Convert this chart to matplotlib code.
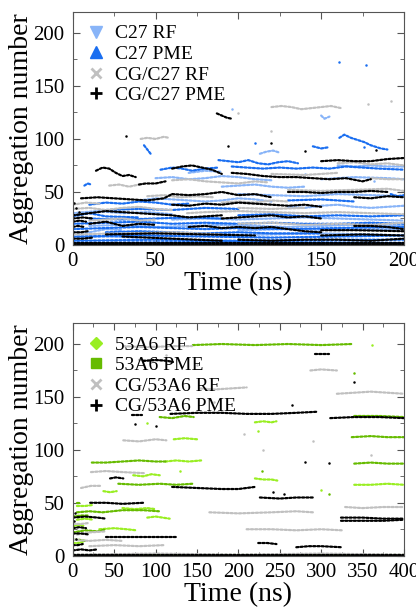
import matplotlib
matplotlib.use('Agg')
from matplotlib import pyplot as plt
from matplotlib.lines import Line2D
from matplotlib.ticker import MultipleLocator

plt.rcParams['font.family'] = ['Liberation Serif', 'DejaVu Serif']

# ---- top panel: C27 runs, each trace is a list of (time ns, aggregation number)
c27_rf = [
    [(150, 122), (152, 119), (155, 121)],
    [(113, 86), (117, 88), (121, 89), (125, 87)],
    [(160, 75), (170, 74), (180, 75), (190, 74), (200, 74)],
    [(50, 63), (60, 64), (70, 62), (80, 63), (90, 65), (100, 64), (110, 62), (120, 61)],
    [(90, 55), (100, 56), (110, 57), (120, 55), (130, 54), (140, 55)],
    [(40, 42), (50, 44), (60, 43), (70, 42), (80, 41), (90, 42), (100, 44), (110, 43), (120, 41)],
    [(130, 36), (140, 35), (150, 37), (160, 38), (170, 36), (180, 35), (190, 36), (200, 37)],
    [(60, 24), (80, 25), (100, 24), (120, 25), (140, 26), (160, 25), (180, 24), (200, 23)],
    [(10, 18), (30, 19), (50, 17), (70, 18), (90, 19), (110, 18), (130, 17), (150, 18), (170, 19), (200, 18)],
    [(30, 10), (60, 11), (90, 9), (120, 10), (150, 11), (180, 10), (200, 9)],
    [(0, 12), (10, 12), (20, 15), (30, 14)],
    [(0, 30), (15, 32), (30, 30), (45, 31), (60, 29)],
    [(100, 48), (120, 47), (140, 46), (160, 48), (180, 47), (200, 46)],
    [(70, 68), (80, 70), (90, 69)],
    [(150, 62), (170, 64), (190, 63), (200, 62)],
    [(0, 7), (20, 8), (40, 7)],
    [(100, 14), (130, 15), (160, 14), (200, 15)],
]
c27_rf_dots = [(96, 128), (140, 67), (182, 60)]

c27_pme = [
    [(161, 101), (164, 104), (168, 101), (172, 99), (176, 97), (180, 94), (186, 91), (190, 90)],
    [(145, 93), (150, 91), (154, 92)],
    [(88, 80), (94, 79), (100, 78), (106, 80), (112, 77), (118, 76), (124, 78), (130, 79), (136, 77)],
    [(53, 71), (60, 73), (66, 72), (72, 70), (80, 72), (88, 73)],
    [(96, 74), (105, 73), (115, 72), (125, 73), (135, 72), (145, 73), (155, 72), (165, 74), (175, 73), (185, 72), (200, 71)],
    [(7, 56), (9, 58), (11, 57)],
    [(43, 94), (45, 90), (47, 86)],
    [(192, 48), (196, 46), (200, 47)],
    [(10, 38), (20, 40), (30, 39), (40, 41), (50, 40), (60, 38), (70, 39)],
    [(100, 28), (120, 29), (140, 27), (160, 28), (180, 27), (200, 28)],
    [(0, 20), (20, 21), (40, 22), (60, 20), (80, 21), (100, 20), (120, 21), (140, 20), (160, 20), (180, 21), (200, 20)],
    [(20, 12), (40, 13), (60, 12), (80, 11), (100, 12), (120, 11), (150, 11)],
    [(0, 4), (50, 5), (100, 4), (150, 5), (200, 5)],
    [(0, 27), (10, 30), (20, 27), (40, 26)],
    [(0, 15), (20, 16), (40, 17), (60, 16), (80, 15), (100, 16), (130, 15), (160, 16), (200, 17)],
    [(20, 33), (40, 34), (60, 33), (80, 35), (100, 34)],
    [(130, 42), (150, 43), (170, 41)],
    [(0, 8), (40, 9), (80, 8), (120, 7), (160, 8), (200, 9)],
    [(10, 25), (30, 24), (50, 25), (70, 26), (90, 25)],
    [(0, 2), (100, 3), (200, 2)],
]
c27_pme_dots = [(161, 172), (177, 170), (110, 96), (176, 92)]

cg_c27_rf = [
    [(41, 100), (45, 101), (50, 100), (55, 102), (58, 101)],
    [(120, 130), (126, 131), (132, 130), (138, 128), (144, 129), (150, 130), (156, 131), (162, 129)],
    [(22, 56), (28, 57), (34, 55), (40, 57)],
    [(60, 61), (70, 62), (80, 60), (90, 59), (100, 58), (110, 60), (118, 59)],
    [(0, 34), (10, 35), (20, 33), (30, 35), (40, 36), (50, 34), (60, 33)],
    [(69, 30), (80, 31), (100, 32), (120, 31), (140, 30), (160, 31), (180, 30), (200, 29)],
    [(45, 46), (55, 47), (65, 45), (75, 46), (85, 45)],
    [(160, 77), (170, 78), (180, 76), (190, 77), (200, 75)],
    [(180, 63), (190, 62), (200, 62)],
    [(100, 20), (120, 21), (140, 19), (160, 20), (180, 19), (200, 21)],
    [(130, 52), (150, 51), (170, 52), (190, 53), (200, 51)],
    [(10, 23), (20, 24), (30, 25), (40, 23), (50, 24)],
    [(90, 40), (100, 41), (110, 40), (120, 42), (130, 41)],
    [(0, 38), (8, 40), (16, 39)],
    [(120, 67), (140, 66), (160, 68)],
    [(0, 10), (30, 11), (60, 12), (90, 10)],
    [(100, 35), (120, 34), (140, 35)],
]
cg_c27_rf_dots = [(178, 133), (192, 136), (120, 107), (100, 124)]

cg_c27_pme = [
    [(87, 124), (90, 122), (93, 120), (96, 119)],
    [(14, 70), (18, 73), (22, 72), (26, 68), (30, 65), (34, 66), (38, 64)],
    [(40, 57), (44, 58), (50, 58), (56, 60)],
    [(60, 72), (66, 74), (72, 75), (78, 73), (84, 71), (90, 67)],
    [(96, 68), (105, 67), (115, 65), (125, 64), (135, 64), (145, 63), (155, 62), (165, 63), (175, 60), (180, 62)],
    [(150, 79), (160, 80), (170, 79), (180, 79), (190, 81), (200, 82)],
    [(5, 44), (15, 45), (25, 44), (35, 43), (45, 42), (55, 44), (60, 48)],
    [(60, 48), (70, 47), (80, 48), (90, 50), (100, 47), (110, 48), (120, 45)],
    [(130, 50), (140, 50), (150, 49), (160, 50), (170, 50), (180, 51), (190, 50)],
    [(170, 45), (180, 44), (190, 46), (200, 45)],
    [(60, 38), (70, 37), (80, 39), (90, 38), (100, 40), (110, 39), (120, 38), (130, 37), (140, 38), (150, 36)],
    [(0, 28), (10, 30), (20, 32), (30, 31), (40, 30), (50, 29), (60, 28), (70, 26), (80, 27), (90, 28)],
    [(90, 25), (100, 26), (110, 27), (120, 28), (130, 26), (140, 27), (150, 25)],
    [(10, 20), (20, 22), (30, 18), (40, 20), (50, 19)],
    [(70, 17), (80, 18), (90, 16), (100, 17), (110, 16), (120, 17), (130, 15), (140, 13), (150, 12)],
    [(170, 18), (180, 18), (190, 17), (200, 15)],
    [(150, 14), (170, 14), (200, 13)],
    [(100, 5), (120, 4), (140, 5), (160, 5), (180, 4), (200, 6)],
    [(30, 8), (60, 6), (90, 4)],
    [(20, 10), (50, 11), (80, 10), (110, 9)],
    [(150, 9), (175, 10), (200, 9)],
    [(0, 1), (50, 1), (100, 1), (150, 1), (200, 1)],
    [(0, 0), (100, 0), (200, 0)],
    [(0, 2), (100, 2), (200, 2)],
    [(0, 22), (4, 23), (8, 22)],
    [(0, 12), (5, 12), (9, 13)],
    [(0, 17), (3, 18), (7, 17)],
    [(0, 25), (6, 26), (12, 25)],
    [(0, 6), (6, 6), (12, 7)],
]
cg_c27_pme_dots = [(32, 103), (94, 93), (120, 96), (140, 89), (183, 90), (2, 35), (4, 31), (1, 40)]

# ---- bottom panel: 53A6 runs
a53_rf = [
    [(112, 89), (125, 90), (140, 89), (155, 90)],
    [(122, 110), (135, 111), (150, 110)],
    [(73, 76), (85, 75), (95, 77), (105, 76)],
    [(220, 126), (230, 127), (240, 126), (246, 127)],
    [(220, 73), (230, 72), (240, 72), (247, 71)],
    [(340, 67), (360, 67), (380, 68), (400, 67)],
    [(60, 45), (75, 44), (90, 45), (100, 44)],
    [(32, 25), (50, 26), (65, 25), (77, 24)],
    [(37, 61), (45, 60), (53, 61)],
    [(90, 36), (100, 37), (117, 35)],
    [(0, 28), (8, 29), (15, 28)],
    [(5, 34), (15, 35), (25, 34)],
    [(5, 47), (15, 47), (25, 48)],
    [(0, 12), (6, 12), (12, 13)],
]
a53_rf_dots = [(362, 199), (224, 118), (90, 125), (300, 62), (130, 80)]

a53_pme = [
    [(145, 199), (180, 200), (220, 199), (260, 200), (300, 199), (337, 200)],
    [(105, 131), (120, 130), (135, 132), (146, 131)],
    [(23, 88), (40, 88), (60, 89), (80, 90), (100, 89), (112, 89)],
    [(55, 68), (80, 67), (105, 68), (125, 67), (145, 68)],
    [(337, 112), (360, 113), (380, 112), (400, 112)],
    [(340, 87), (360, 88), (380, 87), (400, 87)],
    [(340, 132), (370, 132), (400, 131)],
    [(5, 41), (20, 42), (36, 41), (60, 43), (85, 43), (104, 42)],
    [(5, 50), (10, 50)],
    [(0, 22), (15, 24), (30, 23), (40, 25)],
    [(0, 37), (10, 38), (20, 38)],
    [(2, 15), (8, 15), (15, 14)],
    [(0, 1), (100, 1), (200, 1), (300, 1), (400, 1)],
]
a53_pme_dots = [(340, 173), (228, 80), (310, 58)]

cg_a53_rf = [
    [(61, 198), (90, 197), (120, 198), (144, 198)],
    [(80, 185), (95, 184), (110, 185)],
    [(287, 175), (300, 176), (319, 175)],
    [(154, 158), (170, 157), (190, 158), (210, 159)],
    [(319, 153), (340, 154), (360, 155), (380, 154), (400, 153)],
    [(61, 109), (80, 108), (100, 110), (113, 109)],
    [(22, 79), (40, 80), (60, 79), (86, 78)],
    [(10, 64), (22, 66), (35, 66)],
    [(165, 41), (200, 40), (240, 41), (270, 42), (290, 41)],
    [(329, 46), (350, 45), (375, 46), (400, 46)],
    [(210, 25), (240, 25), (270, 24), (300, 25), (325, 24)],
    [(0, 15), (20, 14), (40, 15), (60, 14)],
    [(20, 9), (50, 10), (80, 9), (110, 10)],
    [(0, 30), (10, 30), (20, 31)],
    [(5, 20), (20, 22), (40, 23)],
    [(0, 1), (100, 2), (200, 1), (300, 2), (400, 1)],
]
cg_a53_rf_dots = [(112, 190), (150, 180), (170, 145), (207, 115), (230, 100), (290, 108), (360, 95)]

cg_a53_pme = [
    [(85, 184), (100, 185), (115, 184), (121, 183)],
    [(293, 191), (300, 191), (309, 191)],
    [(71, 133), (77, 133), (83, 133)],
    [(118, 134), (150, 135), (180, 135), (210, 134), (240, 134), (270, 135), (295, 136)],
    [(311, 130), (340, 131), (370, 131), (400, 130)],
    [(120, 65), (150, 64), (180, 63), (200, 63), (220, 65)],
    [(45, 73), (52, 74), (61, 73)],
    [(226, 55), (250, 54), (270, 55), (292, 55)],
    [(21, 50), (40, 50), (60, 49), (85, 50)],
    [(324, 36), (350, 36), (375, 35), (400, 35)],
    [(324, 33), (350, 33), (375, 33), (400, 34)],
    [(224, 12), (235, 12), (246, 11)],
    [(270, 8), (285, 9), (300, 9), (325, 8)],
    [(0, 36), (15, 37), (30, 36), (40, 35)],
    [(40, 18), (70, 18), (100, 18), (125, 18)],
    [(0, 26), (8, 27), (16, 26)],
    [(0, 21), (10, 21), (20, 20)],
    [(0, 10), (6, 10), (12, 11)],
    [(0, 5), (10, 6), (20, 5), (30, 6)],
    [(0, 1), (100, 1), (200, 1), (300, 1), (400, 1)],
    [(0, 0), (200, 0), (400, 0)],
]
cg_a53_pme_dots = [(75, 124), (100, 123), (340, 164), (280, 89), (310, 88), (265, 142), (242, 60), (255, 58),
                   (2, 33), (3, 40), (4, 16)]

col_lblue = '#88b4f8'
col_blue = '#1a6ef0'
col_lgreen = '#99ee22'
col_green = '#66bb00'
col_gray = '#c0c0c0'
col_black = '#000000'


def draw(ax, traces, dots, color):
    for tr in traces:
        t = [p[0] for p in tr]
        a = [p[1] for p in tr]
        ax.plot(t, a, color=color, lw=1.6, ls=(0, (1.0, 0.9)), dash_capstyle='round')
    ax.plot([p[0] for p in dots], [p[1] for p in dots], 'o', color=color, ms=1.8, mew=0)


def style(ax, xmax):
    ax.set_xlim(0, xmax)
    ax.set_ylim(0, 220)
    ax.xaxis.set_major_locator(MultipleLocator(50))
    ax.xaxis.set_minor_locator(MultipleLocator(25))
    ax.yaxis.set_major_locator(MultipleLocator(50))
    ax.yaxis.set_minor_locator(MultipleLocator(25))
    ax.tick_params(which='both', direction='in', top=True, right=True, labelsize=15, color='#555555')
    ax.tick_params(which='major', length=5)
    ax.tick_params(axis='y', which='major', pad=6)
    ax.tick_params(axis='x', which='major', pad=5)
    ax.tick_params(which='minor', length=3)
    for s in ax.spines.values():
        s.set_color('#555555')
    ax.set_xlabel('Time (ns)', fontsize=20, labelpad=0)
    ax.set_ylabel('Aggregation number', fontsize=20)
    ax.yaxis.set_label_coords(-0.118, 0.5)


fig = plt.figure(figsize=(4.16, 6.08), dpi=100)
ax1 = fig.add_axes([0.175, 0.597, 0.796, 0.384])
ax2 = fig.add_axes([0.175, 0.086, 0.796, 0.383])

draw(ax1, c27_rf, c27_rf_dots, col_lblue)
draw(ax1, c27_pme, c27_pme_dots, col_blue)
draw(ax1, cg_c27_rf, cg_c27_rf_dots, col_gray)
draw(ax1, cg_c27_pme, cg_c27_pme_dots, col_black)
style(ax1, 200)

draw(ax2, a53_rf, a53_rf_dots, col_lgreen)
draw(ax2, a53_pme, a53_pme_dots, col_green)
draw(ax2, cg_a53_rf, cg_a53_rf_dots, col_gray)
draw(ax2, cg_a53_pme, cg_a53_pme_dots, col_black)
style(ax2, 400)

top_labels = ['C27 RF', 'C27 PME', 'CG/C27 RF', 'CG/C27 PME']
top_handles = [
    Line2D([], [], ls='', marker='v', color=col_lblue, ms=8),
    Line2D([], [], ls='', marker='^', color=col_blue, ms=8),
    Line2D([], [], ls='', marker='x', color=col_gray, ms=7, mew=2),
    Line2D([], [], ls='', marker='+', color=col_black, ms=8, mew=2),
]
bot_labels = ['53A6 RF', '53A6 PME', 'CG/53A6 RF', 'CG/53A6 PME']
bot_handles = [
    Line2D([], [], ls='', marker='D', color=col_lgreen, ms=6.5),
    Line2D([], [], ls='', marker='s', color=col_green, ms=7.5),
    Line2D([], [], ls='', marker='x', color=col_gray, ms=7, mew=2),
    Line2D([], [], ls='', marker='+', color=col_black, ms=8, mew=2),
]
for ax, h, l in [(ax1, top_handles, top_labels), (ax2, bot_handles, bot_labels)]:
    ax.legend(h, l, loc='upper left', bbox_to_anchor=(0.04, 0.943), frameon=False, fontsize=14,
              handlelength=1.0, handletextpad=0.5, labelspacing=0.15, borderpad=0, borderaxespad=0)

fig.savefig('out.png', dpi=100)
